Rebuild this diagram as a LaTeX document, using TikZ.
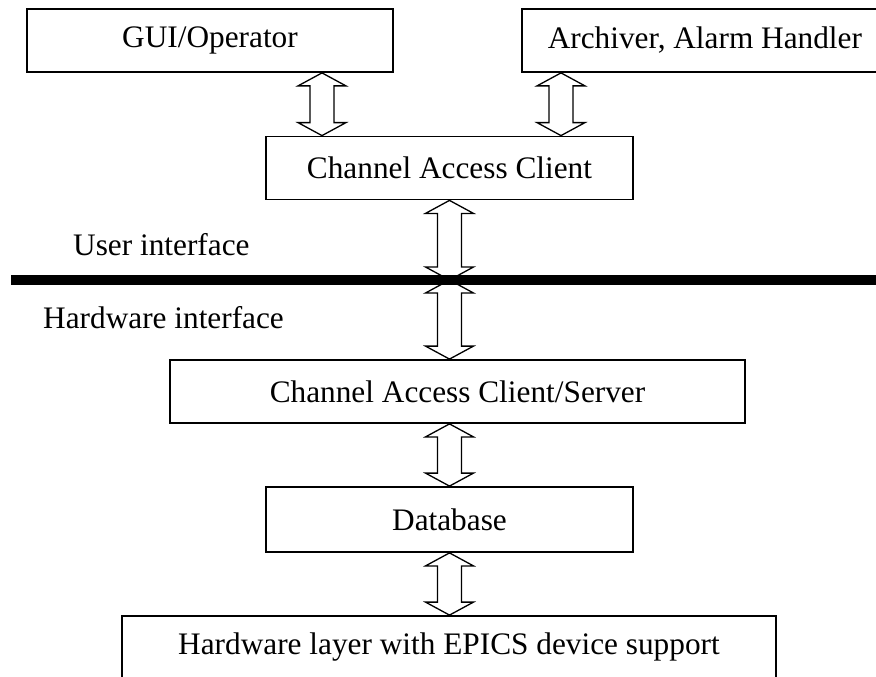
\documentclass[tikz,border=0pt]{standalone}
\usepackage{fontspec}
\setmainfont{Liberation Serif}
\usetikzlibrary{calc}

\tikzset{
  layer/.style={draw, line width=1.8pt, minimum height=63pt, inner sep=0pt},
  side text/.style={inner sep=0pt, anchor=base west},
  hollow/.style={draw, line width=1.3pt, fill=white, line join=miter},
}
% hollow two-headed arrow from a top point down to a bottom point
\newcommand{\updown}[2]{%
  \draw[hollow] let \p1=(#1), \p2=(#2) in
    (\x1,\y1) -- (\x1+24pt,\y1-13pt) -- (\x1+12pt,\y1-13pt) -- (\x1+12pt,\y2+13pt)
    -- (\x1+24pt,\y2+13pt) -- (\x1,\y2) -- (\x1-24pt,\y2+13pt) -- (\x1-12pt,\y2+13pt)
    -- (\x1-12pt,\y1-13pt) -- (\x1-24pt,\y1-13pt) -- cycle;
}

\begin{document}
\begin{tikzpicture}[x=1pt, y=-1pt, font=\fontsize{31.3}{37}\selectfont]
    \useasboundingbox (0,0) rectangle (876,677);
    % client side
    \node[layer, minimum width=366pt] (gui) at (210,40.5) {GUI/Operator};
    \node[layer, minimum width=366pt, anchor=west] (arch) at (521,40.5) {Archiver, Alarm Handler};
    \node[layer, minimum width=367pt] (cac) at (449.5,168) {Channel Access Client};
    % split between user and hardware side
    \coordinate (barL) at (11,280);
    \coordinate (barR) at (876,280);
    \node[side text] (user) at (73,255) {User interface};
    \node[side text] (hard) at (43,328) {Hardware interface};
    % server side
    \node[layer, minimum width=575pt] (cacs) at (457.5,391.5) {Channel Access Client/Server};
    \node[layer, minimum width=367pt, minimum height=65pt] (db) at (449.5,519.5) {Database};
    \node[layer, minimum width=654pt] (hw) at (449,647.5) {Hardware layer with EPICS device support};
    % links
    \coordinate (guilink) at (322,0);
    \coordinate (archlink) at (561,0);
    \updown{gui.south -| guilink}{cac.north -| guilink}
    \updown{arch.south -| archlink}{cac.north -| archlink}
    \updown{cac.south}{barL -| cac.south}
    \updown{barL -| cac.south}{cacs.north -| cac.south}
    \updown{cacs.south -| cac.south}{db.north}
    \updown{db.south}{hw.north}
    \draw[line width=10pt] (barL) -- (barR);
\end{tikzpicture}
\end{document}
